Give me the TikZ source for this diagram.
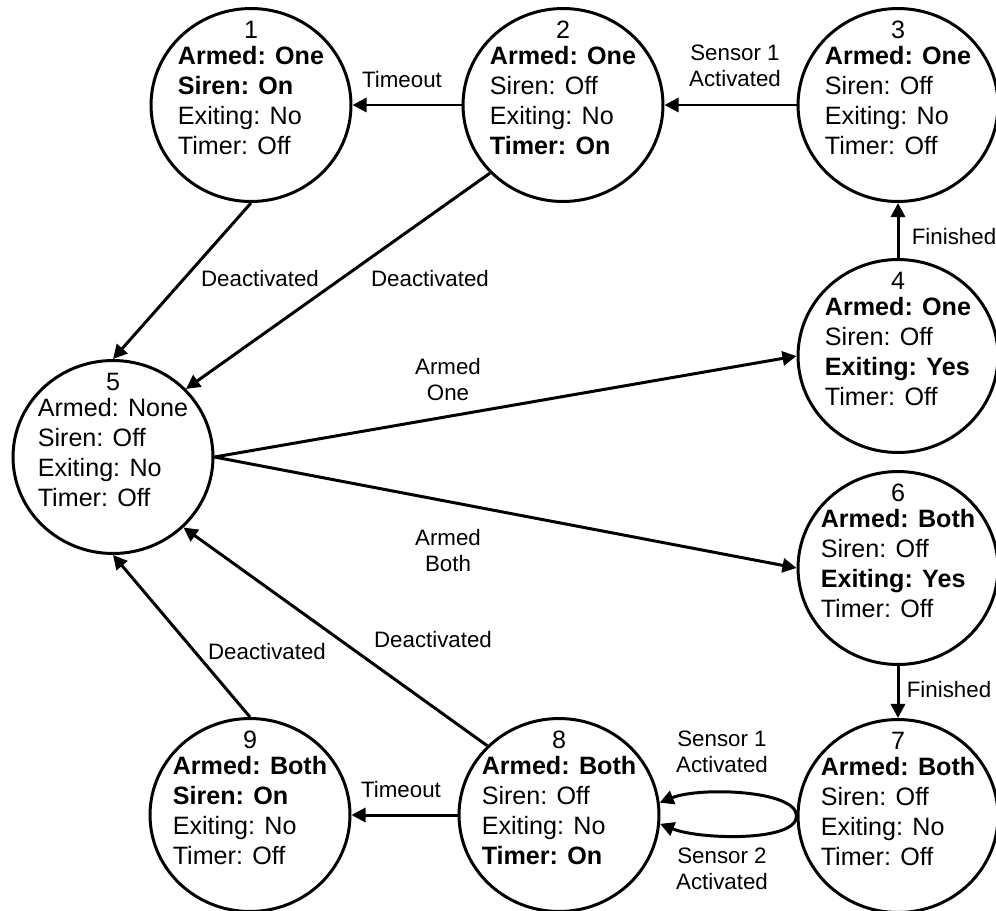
\documentclass[tikz,border=0pt]{standalone}
\usepackage{fontspec}
\setmainfont{Liberation Sans}
\usetikzlibrary{arrows.meta,shapes.geometric}
\newcommand{\statefont}{\fontsize{14.3}{17}\selectfont}
\newcommand{\edgefont}{\fontsize{12.7}{14.8}\selectfont}
% number on top, the four settings below it
\newcommand{\statelines}[2]{\smash{\makebox[0pt]{\raisebox{4.5pt}{\begin{tabular}{@{}l@{}}\multicolumn{1}{@{}c@{}}{#1}\\[-2.2pt]#2\end{tabular}}}}}
\begin{document}
\begin{tikzpicture}[x=0.02cm, y=-0.02cm,
    state/.style={draw, ellipse, line width=1.7pt, minimum width=4cm, minimum height=3.86cm, inner sep=0pt, font=\statefont},
    trans/.style={-{Triangle[length=8pt,width=8pt]}, line width=1.7pt},
    lbl/.style={font=\edgefont, align=center, inner sep=1pt}]
    \useasboundingbox (0,0) rectangle (996,910);
    % states
    \node[state] (s1) at (251,105) {\statelines{1}{\textbf{Armed: One}\\\textbf{Siren: On}\\Exiting: No\\Timer: Off}};
    \node[state] (s2) at (563,105) {\statelines{2}{\textbf{Armed: One}\\Siren: Off\\Exiting: No\\\textbf{Timer: On}}};
    \node[state] (s3) at (898,105) {\statelines{3}{\textbf{Armed: One}\\Siren: Off\\Exiting: No\\Timer: Off}};
    \node[state] (s4) at (898,356) {\statelines{4}{\textbf{Armed: One}\\Siren: Off\\\textbf{Exiting: Yes}\\Timer: Off}};
    \node[state] (s5) at (113,457) {\statelines{5}{Armed: None\\Siren: Off\\Exiting: No\\Timer: Off}};
    \node[state] (s6) at (898,568) {\statelines{6}{\textbf{Armed: Both}\\Siren: Off\\\textbf{Exiting: Yes}\\Timer: Off}};
    \node[state] (s7) at (898,816) {\statelines{7}{\textbf{Armed: Both}\\Siren: Off\\Exiting: No\\Timer: Off}};
    \node[state] (s8) at (559,815) {\statelines{8}{\textbf{Armed: Both}\\Siren: Off\\Exiting: No\\\textbf{Timer: On}}};
    \node[state] (s9) at (250,815) {\statelines{9}{\textbf{Armed: Both}\\\textbf{Siren: On}\\Exiting: No\\Timer: Off}};
    % transitions
    \foreach \from/\to in {s2.west/s1.east, s3.west/s2.east, s4.north/s3.south,
        s1.south/s5.north, s2.223/s5.43, s5.east/s4.west, s5.east/s6.west,
        s6.south/s7.north, s8.west/s9.east, s8.136/s5.-45, s9.north/s5.south}
        \draw[trans] (\from) -- (\to);
    \draw[trans] (s7.west) .. controls +(0,-26) and +(40,-16) .. (s8.7);
    \draw[trans] (s7.west) .. controls +(0,26) and +(40,16) .. (s8.-5);
    % labels
    \node[lbl] (t21) at (402,80) {Timeout};
    \node[lbl] (t32) at (735,66) {Sensor 1\\Activated};
    \node[lbl] (t43) at (954,237) {Finished};
    \node[lbl] (t15) at (260,279) {Deactivated};
    \node[lbl] (t25) at (430,279) {Deactivated};
    \node[lbl] (t54) at (448,380) {Armed\\One};
    \node[lbl] (t56) at (448,551) {Armed\\Both};
    \node[lbl] (t67) at (949,690) {Finished};
    \node[lbl] (t95) at (267,652) {Deactivated};
    \node[lbl] (t85) at (433,640) {Deactivated};
    \node[lbl] (t89) at (401,790) {Timeout};
    \node[lbl] (t78a) at (722,752) {Sensor 1\\Activated};
    \node[lbl] (t78b) at (722,869) {Sensor 2\\Activated};
\end{tikzpicture}
\end{document}
